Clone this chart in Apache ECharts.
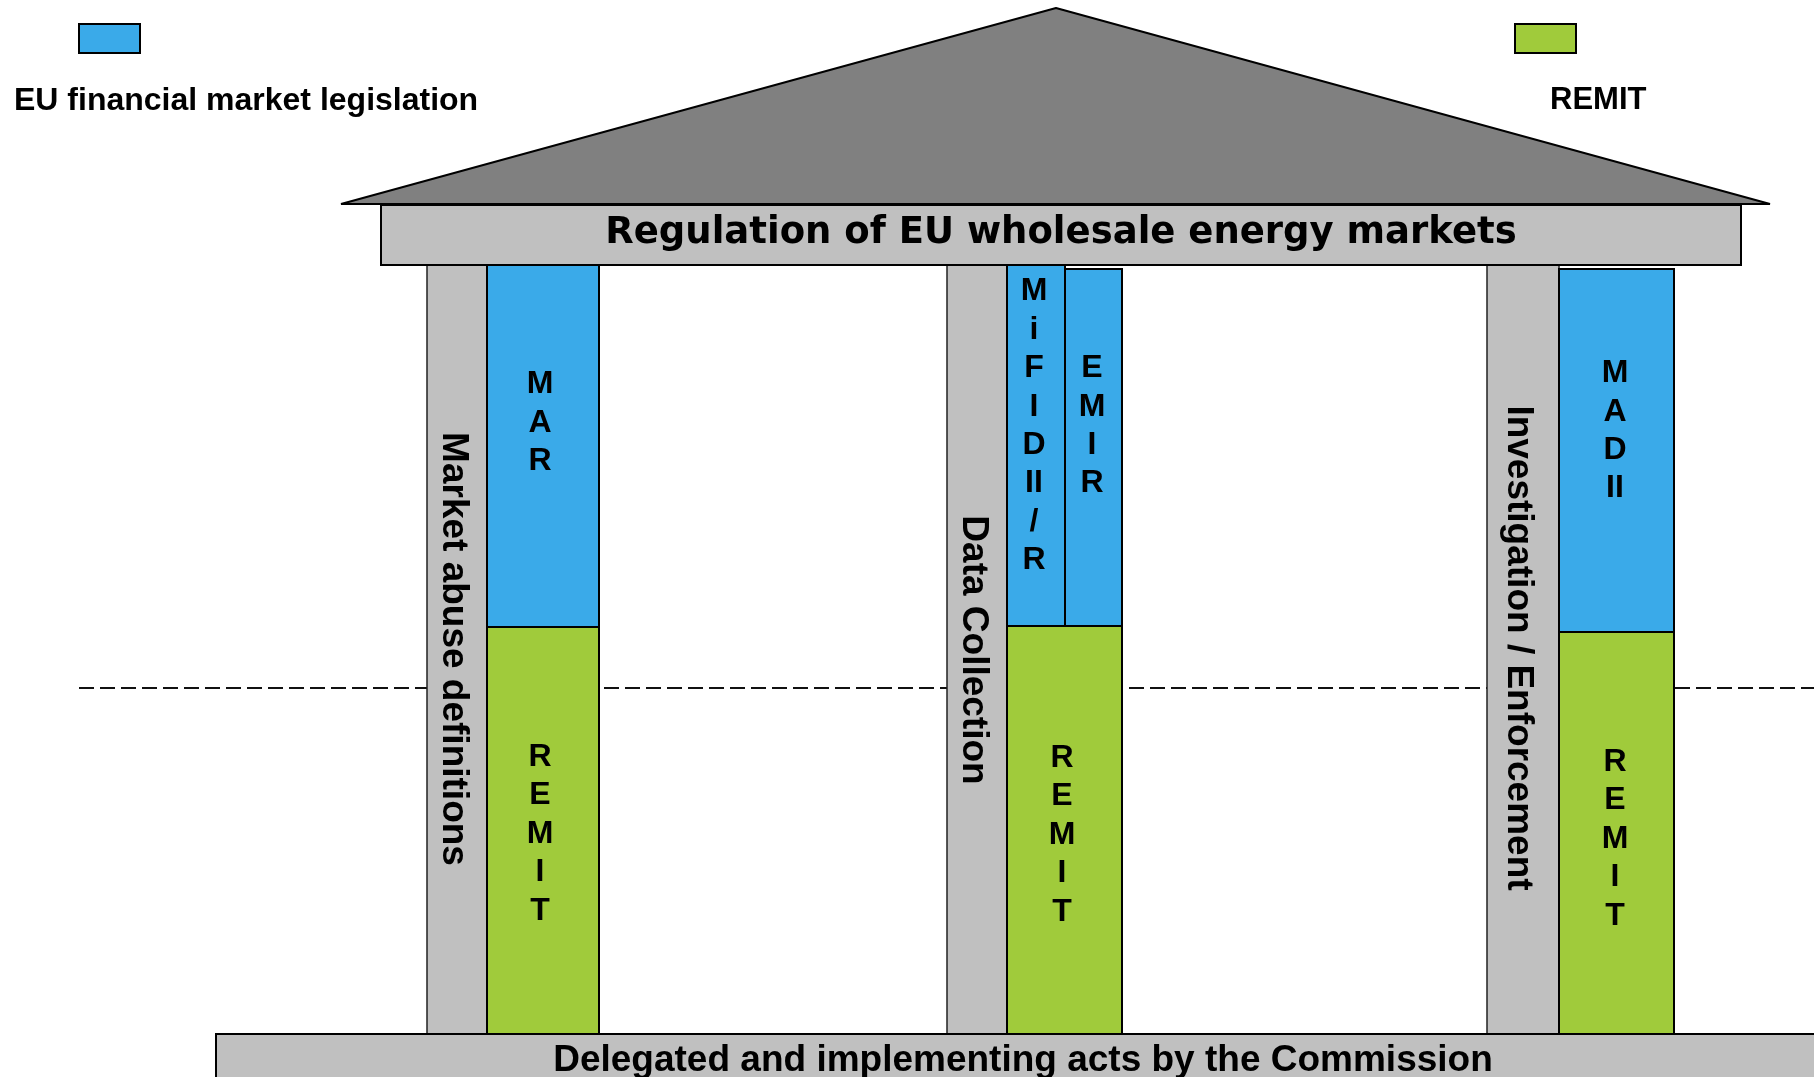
<!doctype html>
<html lang="en">
<head>
    <meta charset="UTF-8">
    <title>Regulation of EU wholesale energy markets</title>
    <script src="https://cdn.jsdelivr.net/npm/echarts@6/dist/echarts.min.js"></script>
    <style>
        html, body { margin: 0; padding: 0; background: #fff; }
        #main { width: 1814px; height: 1077px; }
    </style>
</head>
<body>
<div id="main"></div>
<script>
    // ---- data (diagram units = the 1814 x 1077 canvas) ----
    var legendNames = ['EU financial market legislation', 'REMIT'];

    var roofPoints = [[341, 204], [1056, 8], [1770, 204]];

    var beamLabels = ['Regulation of EU wholesale energy markets', 'Delegated and implementing acts by the Commission'];
    var beamX = [[381, 1741], [216, 1830]];
    var beamY = [[205, 265], [1034, 1095]];
    var beamTextAt = [[1061, 233], [1023, 1061]];

    var pillarLabels = ['Market abuse definitions', 'Data Collection', 'Investigation / Enforcement'];
    var pillarX = [[427, 487], [947, 1007], [1487, 1559]];
    var pillarY = [265, 1034];
    var pillarTextAt = [[453, 649], [973, 650], [1518, 648]];

    var euActs = ['M A R', 'M i F I D II / R', 'E M I R', 'M A D II'];
    var euX = [[487, 599], [1007, 1065], [1065, 1122], [1559, 1674]];
    var euY = [[265, 627], [265, 626], [269, 627], [269, 632]];
    var euTextAt = [[540, 423], [1034, 426], [1092, 426], [1615, 431]];

    var remitActs = ['R E M I T', 'R E M I T', 'R E M I T'];
    var remitX = [[487, 599], [1007, 1122], [1559, 1674]];
    var remitY = [[627, 1034], [626, 1034], [632, 1034]];
    var remitTextAt = [[540, 834], [1062, 835], [1615, 839]];

    var divider = [[79, 688], [1814, 688]];

    var BLUE = '#3AAAE9', GREEN = '#A0CB3B', GREY = '#C0C0C0', ROOF = '#808080';
    var ARIAL = '"Liberation Sans", Arial, sans-serif';

    // ---- helpers ----
    function rectOf(api) {
        var p0 = api.coord([api.value(0), api.value(1)]);
        var p1 = api.coord([api.value(2), api.value(3)]);
        return { x: p0[0], y: p0[1], width: p1[0] - p0[0], height: p1[1] - p0[1] };
    }

    function actItem(labels) {
        return function (params, api) {
            var r = rectOf(api);
            var t = api.coord([api.value(4), api.value(5)]);
            return {
                type: 'group',
                children: [{
                    type: 'rect',
                    shape: r,
                    style: { fill: api.visual('color'), stroke: '#000', lineWidth: 2 }
                }, {
                    type: 'text',
                    x: t[0], y: t[1],
                    style: {
                        text: labels[params.dataIndex].split(' ').join('\n'),
                        fill: '#000',
                        fontFamily: ARIAL, fontWeight: 'bold', fontSize: 32,
                        lineHeight: 38.4,
                        align: 'center', verticalAlign: 'middle'
                    }
                }]
            };
        };
    }

    function zip(xs, ys, ts) {
        return xs.map(function (x, i) {
            return [x[0], ys[i][0], x[1], ys[i][1], ts[i][0], ts[i][1]];
        });
    }

    var chart = echarts.init(document.getElementById('main'));

    var option = {
        animation: false,
        backgroundColor: '#fff',
        grid: { left: 0, right: 0, top: 0, bottom: 0 },
        xAxis: { type: 'value', min: 0, max: 1814, show: false },
        yAxis: { type: 'value', min: 0, max: 1077, inverse: true, show: false },
        legend: [{
            data: [{ name: legendNames[0], itemStyle: { color: BLUE, borderColor: '#000', borderWidth: 2 } }],
            left: 78, top: 23, itemWidth: 61, itemHeight: 29, icon: 'rect', padding: 0,
            selectedMode: false,
            formatter: function () { return ' '; }
        }, {
            data: [{ name: legendNames[1], itemStyle: { color: GREEN, borderColor: '#000', borderWidth: 2 } }],
            left: 1514, top: 23, itemWidth: 61, itemHeight: 29, icon: 'rect', padding: 0,
            selectedMode: false,
            formatter: function () { return ' '; }
        }],
        title: [{
            text: legendNames[0], left: 14, top: 85, padding: 0,
            textStyle: { fontFamily: ARIAL, fontWeight: 'bold', fontSize: 32, color: '#000' }
        }, {
            text: legendNames[1], left: 1550, top: 85, padding: 0,
            textStyle: { fontFamily: ARIAL, fontWeight: 'bold', fontSize: 31, color: '#000' }
        }],
        series: [{
            // dashed divider behind the pillars
            type: 'line',
            data: divider,
            symbol: 'none',
            silent: true,
            z: 1,
            lineStyle: { color: '#111', width: 2, type: [15, 6] }
        }, {
            name: 'pillars',
            type: 'custom',
            z: 2,
            clip: false,
            data: pillarX.map(function (x, i) {
                return [x[0], pillarY[0], x[1], pillarY[1], pillarTextAt[i][0], pillarTextAt[i][1]];
            }),
            renderItem: function (params, api) {
                var r = rectOf(api);
                var t = api.coord([api.value(4), api.value(5)]);
                return {
                    type: 'group',
                    children: [{
                        type: 'rect',
                        shape: r,
                        style: { fill: GREY, stroke: '#222', lineWidth: 1.5 }
                    }, {
                        type: 'text',
                        x: t[0], y: t[1],
                        rotation: -Math.PI / 2,
                        style: {
                            text: pillarLabels[params.dataIndex],
                            fill: '#000',
                            fontFamily: ARIAL, fontWeight: 'bold', fontSize: 37,
                            align: 'center', verticalAlign: 'middle'
                        }
                    }]
                };
            }
        }, {
            name: legendNames[0],
            type: 'custom',
            z: 2,
            itemStyle: { color: BLUE },
            data: zip(euX, euY, euTextAt),
            renderItem: actItem(euActs)
        }, {
            name: legendNames[1],
            type: 'custom',
            z: 2,
            itemStyle: { color: GREEN },
            data: zip(remitX, remitY, remitTextAt),
            renderItem: actItem(remitActs)
        }, {
            name: 'roof',
            type: 'custom',
            z: 3,
            data: [[].concat(roofPoints[0], roofPoints[1], roofPoints[2])],
            renderItem: function (params, api) {
                var pts = [];
                for (var i = 0; i < 3; i++) {
                    pts.push(api.coord([api.value(i * 2), api.value(i * 2 + 1)]));
                }
                return {
                    type: 'polygon',
                    shape: { points: pts },
                    style: { fill: ROOF, stroke: '#000', lineWidth: 2, lineJoin: 'bevel' }
                };
            }
        }, {
            name: 'beams',
            type: 'custom',
            z: 3,
            clip: false,
            data: beamX.map(function (x, i) {
                return [x[0], beamY[i][0], x[1], beamY[i][1], beamTextAt[i][0], beamTextAt[i][1]];
            }),
            renderItem: function (params, api) {
                var r = rectOf(api);
                var t = api.coord([api.value(4), api.value(5)]);
                var top = params.dataIndex === 0;
                return {
                    type: 'group',
                    children: [{
                        type: 'rect',
                        shape: r,
                        style: { fill: GREY, stroke: '#000', lineWidth: 2 }
                    }, {
                        type: 'text',
                        x: t[0], y: t[1],
                        style: {
                            text: beamLabels[params.dataIndex],
                            fill: '#000',
                            fontFamily: top ? '"DejaVu Sans", Verdana, sans-serif' : ARIAL,
                            fontWeight: 'bold',
                            fontSize: 37,
                            align: 'center', verticalAlign: 'middle'
                        }
                    }]
                };
            }
        }]
    };

    chart.setOption(option);
</script>
</body>
</html>
